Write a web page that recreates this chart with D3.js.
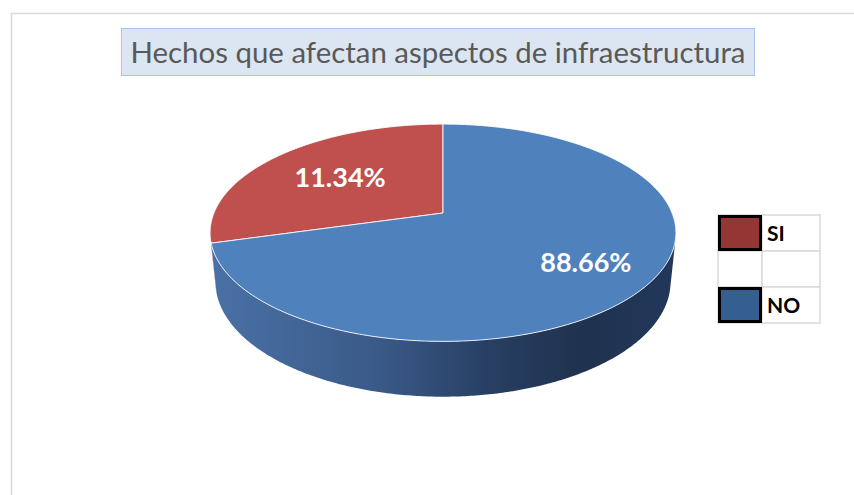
<!DOCTYPE html>
<html>
<head>
<meta charset="utf-8">
<script src="https://cdn.jsdelivr.net/npm/d3@7"></script>
<style>
  html, body { margin: 0; background: #fff; }
  svg { display: block; }
</style>
</head>
<body>
<svg id="chart" width="854" height="495"></svg>
<script>
// --- data ---
const title = 'Hechos que afectan aspectos de infraestructura';
const categories = ['SI', 'NO'];
// share of the circle each slice covers as drawn in the picture (the printed % differ)
const sliceShares = [29.4, 70.6];
const sliceLabels = ['11.34%', '88.66%'];
const topColors = ['#C0504D', '#4F81BD'];
const legendColors = ['#943634', '#365F91'];

const svg = d3.select('#chart');

// chart frame (only top and left edges show)
svg.append('path')
  .attr('d', 'M11.5,495 V13.5 H854')
  .attr('fill', 'none')
  .attr('stroke', '#D9D9D9')
  .attr('stroke-width', 1.5);

// title box
const titleG = svg.append('g');
titleG.append('rect')
  .attr('x', 121.5).attr('y', 28.5)
  .attr('width', 633).attr('height', 47)
  .attr('fill', '#DCE6F2')
  .attr('stroke', '#A9C4E6');
titleG.append('text')
  .attr('x', 438).attr('y', 63)
  .attr('text-anchor', 'middle')
  .attr('font-family', 'Lato, sans-serif')
  .attr('font-size', 28)
  .attr('fill', '#595959')
  .attr('textLength', 615)
  .attr('lengthAdjust', 'spacingAndGlyphs')
  .text(title);

// --- 3d pie with perspective ---
const cx = 443, cy = 213;          // screen point of the pie centre
const R = 100, D = 489, f = 1120;  // radius, camera distance, focal length
const H = 24.3;                    // thickness
const tilt = 27.3 * Math.PI / 180;
const ca = Math.cos(tilt), sa = Math.sin(tilt);

function project(r, theta, y) {
  const x = r * Math.cos(theta), z = r * Math.sin(theta);
  const Y = y * ca + z * sa;
  const Z = z * ca - y * sa;
  return [cx + f * x / (D + Z), cy - f * Y / (D + Z)];
}

function arcPts(t0, t1, y) {
  const n = Math.max(2, Math.ceil(Math.abs(t1 - t0) / 0.01));
  return d3.range(n + 1).map(i => project(R, t0 + (t1 - t0) * i / n, y));
}

const line = d3.line();
const total = d3.sum(sliceShares);
const pie = d3.pie().sort(null)
  .startAngle(-2 * Math.PI * sliceShares[0] / total)
  .endAngle(2 * Math.PI - 2 * Math.PI * sliceShares[0] / total);
// d3 angle: clockwise from 12 o'clock -> theta: counter-clockwise from 3 o'clock
const arcs = pie(sliceShares).map((d, i) => ({
  i,
  t0: Math.PI / 2 - d.startAngle,
  t1: Math.PI / 2 - d.endAngle
}));

// visible part of the outer wall
const s0 = Math.asin(R / (D * ca));
const visLo = Math.PI + s0, visHi = 2 * Math.PI - s0;

const defs = svg.append('defs');
const grads = [
  ['wallRed', ['#A5413F', '#8E3634', '#6E2725', '#5A201F', '#5E2322']],
  ['wallBlue', ['#4A71A6', '#3A5B89', '#283F63', '#1F324F', '#22375A']]
];
grads.forEach(([id, cols]) => {
  const g = defs.append('linearGradient').attr('id', id)
    .attr('gradientUnits', 'userSpaceOnUse')
    .attr('x1', 210).attr('x2', 676).attr('y1', 0).attr('y2', 0);
  [0, 0.35, 0.6, 0.8, 1].forEach((o, k) =>
    g.append('stop').attr('offset', o).attr('stop-color', cols[k]));
});

const walls = svg.append('g');
arcs.forEach(a => {
  const lo = Math.min(a.t0, a.t1), hi = Math.max(a.t0, a.t1);
  [-2 * Math.PI, 0, 2 * Math.PI].forEach(shift => {
    const w0 = Math.max(lo, visLo + shift), w1 = Math.min(hi, visHi + shift);
    if (w1 <= w0) return;
    const pts = arcPts(w0, w1, 0).concat(arcPts(w1, w0, -H));
    walls.append('path')
      .attr('d', line(pts) + 'Z')
      .attr('fill', a.i === 0 ? 'url(#wallRed)' : 'url(#wallBlue)');
  });
});

const tops = svg.append('g');
arcs.forEach(a => {
  const pts = [project(0, 0, 0)].concat(arcPts(a.t0, a.t1, 0));
  tops.append('path')
    .attr('d', line(pts) + 'Z')
    .attr('fill', topColors[a.i])
    .attr('stroke', '#fff')
    .attr('stroke-opacity', 0.85)
    .attr('stroke-width', 1)
    .attr('stroke-linejoin', 'round');
});

// data labels
const labelR = [0.6, 0.72];
svg.append('g').selectAll('text')
  .data(arcs)
  .join('text')
  .attr('transform', a => {
    const p = project(R * labelR[a.i], (a.t0 + a.t1) / 2, 0);
    return `translate(${p[0]},${p[1]})`;
  })
  .attr('text-anchor', 'middle')
  .attr('dy', '0.36em')
  .attr('font-family', 'Lato, sans-serif')
  .attr('font-weight', 'bold')
  .attr('font-size', 27)
  .attr('fill', '#fff')
  .text(a => sliceLabels[a.i]);

// --- legend (table with an empty middle row) ---
const legendRows = [categories[0], '', categories[1]];
const rowY = d3.scaleBand().domain(d3.range(legendRows.length)).range([215, 323]);
const colX = [718, 762, 820];
const legend = svg.append('g');
legendRows.forEach((_, r) => {
  [0, 1].forEach(c => {
    legend.append('rect')
      .attr('x', colX[c]).attr('y', rowY(r))
      .attr('width', colX[c + 1] - colX[c]).attr('height', rowY.bandwidth())
      .attr('fill', '#fff')
      .attr('stroke', '#D9D9D9')
      .attr('stroke-width', 1.5);
  });
});
categories.forEach((cat, i) => {
  const r = legendRows.indexOf(cat);
  legend.append('rect')
    .attr('x', colX[0] + 1.5).attr('y', rowY(r) + 1.5)
    .attr('width', colX[1] - colX[0] - 3).attr('height', rowY.bandwidth() - 3)
    .attr('fill', legendColors[i])
    .attr('stroke', '#000')
    .attr('stroke-width', 3);
  legend.append('text')
    .attr('x', colX[1] + 5)
    .attr('y', rowY(r) + rowY.bandwidth() / 2)
    .attr('dy', '0.36em')
    .attr('font-family', 'Lato, sans-serif')
    .attr('font-weight', 'bold')
    .attr('font-size', 21)
    .attr('fill', '#000')
    .text(cat);
});
</script>
</body>
</html>
